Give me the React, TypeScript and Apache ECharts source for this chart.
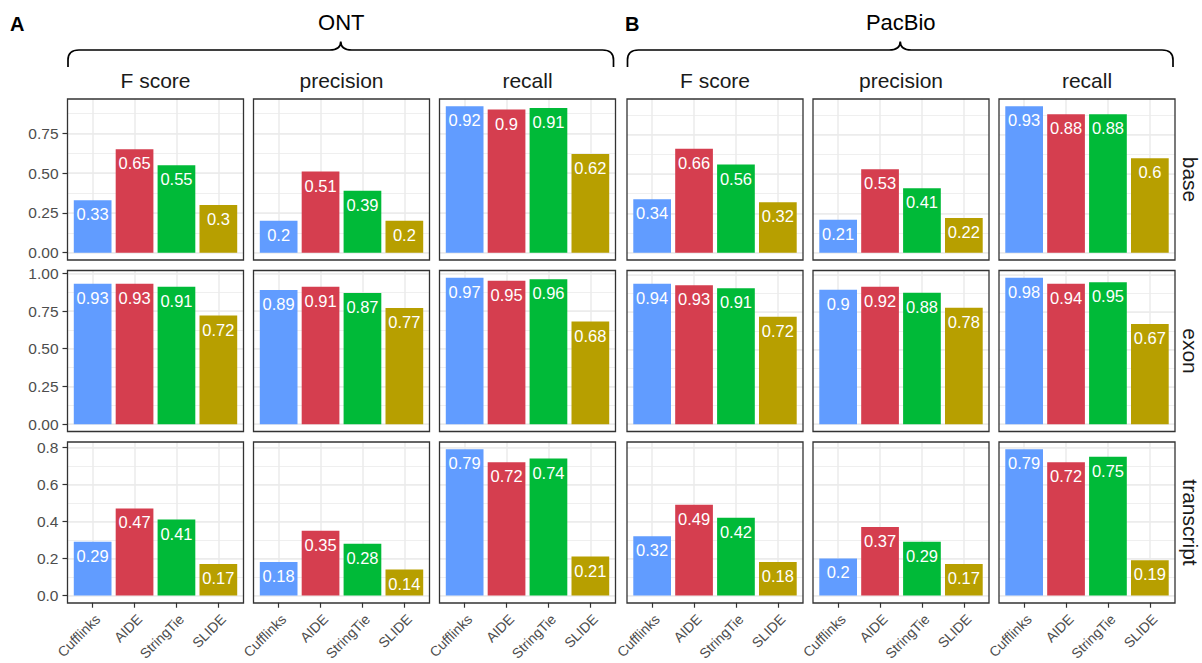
import React, { useEffect, useRef } from "react";
import * as echarts from "echarts";

// ---------- data ----------
const methods = ["Cufflinks", "AIDE", "StringTie", "SLIDE"];
const methodColors = ["#619CFF", "#D53E4F", "#00BA38", "#B79F00"];
const metrics = ["F score", "precision", "recall"];
const levels = ["base", "exon", "transcript"];
const platforms = ["ONT", "PacBio"];
const panelLetters = ["A", "B"];

// ONT
const ontBaseF = [0.33, 0.65, 0.55, 0.3];
const ontBaseP = [0.2, 0.51, 0.39, 0.2];
const ontBaseR = [0.92, 0.9, 0.91, 0.62];
const ontExonF = [0.93, 0.93, 0.91, 0.72];
const ontExonP = [0.89, 0.91, 0.87, 0.77];
const ontExonR = [0.97, 0.95, 0.96, 0.68];
const ontTranscriptF = [0.29, 0.47, 0.41, 0.17];
const ontTranscriptP = [0.18, 0.35, 0.28, 0.14];
const ontTranscriptR = [0.79, 0.72, 0.74, 0.21];

// PacBio
const pacbioBaseF = [0.34, 0.66, 0.56, 0.32];
const pacbioBaseP = [0.21, 0.53, 0.41, 0.22];
const pacbioBaseR = [0.93, 0.88, 0.88, 0.6];
const pacbioExonF = [0.94, 0.93, 0.91, 0.72];
const pacbioExonP = [0.9, 0.92, 0.88, 0.78];
const pacbioExonR = [0.98, 0.94, 0.95, 0.67];
const pacbioTranscriptF = [0.32, 0.49, 0.42, 0.18];
const pacbioTranscriptP = [0.2, 0.37, 0.29, 0.17];
const pacbioTranscriptR = [0.79, 0.72, 0.75, 0.19];

// y tick steps per level (major / minor) and label decimals
const levelMajorStep = [0.25, 0.25, 0.2];
const levelMinorStep = [0.125, 0.125, 0.1];
const levelDecimals = [2, 2, 1];

const ontRows = [
  [ontBaseF, ontBaseP, ontBaseR],
  [ontExonF, ontExonP, ontExonR],
  [ontTranscriptF, ontTranscriptP, ontTranscriptR],
];
const pacbioRows = [
  [pacbioBaseF, pacbioBaseP, pacbioBaseR],
  [pacbioExonF, pacbioExonP, pacbioExonR],
  [pacbioTranscriptF, pacbioTranscriptP, pacbioTranscriptR],
];
const groups = [ontRows, pacbioRows];

// ---------- layout ----------
const FONT = "'Liberation Sans', Arial, Helvetica, sans-serif";
const GROUP_X0 = [67.5, 627];
const PANEL_W = 176;
const PANEL_GAP = 10;
const ROW_TOP0 = 99;
const ROW_H = 161;
const ROW_GAP = 10.5;

const round = (v: number) => Math.round(v * 100000) / 100000;

function hiddenAxis(gridIndex: number) {
  return { gridIndex, type: "value", min: 0, max: 1, show: false };
}

function bracePath(L: number, R: number, yLine: number, yEnd: number, yTip: number) {
  const mid = (L + R) / 2;
  const r = 11;
  const t = 10;
  return (
    `M ${L} ${yEnd} L ${L} ${yLine + t} Q ${L} ${yLine} ${L + r} ${yLine} ` +
    `L ${mid - r} ${yLine} Q ${mid} ${yLine} ${mid} ${yTip} ` +
    `Q ${mid} ${yLine} ${mid + r} ${yLine} L ${R - r} ${yLine} ` +
    `Q ${R} ${yLine} ${R} ${yLine + t} L ${R} ${yEnd}`
  );
}

function buildOption() {
  const grids: any[] = [];
  const xAxes: any[] = [];
  const yAxes: any[] = [];
  const series: any[] = [];
  const graphics: any[] = [];

  groups.forEach((rows, g) => {
    rows.forEach((rowSeries, r) => {
      const m = Math.max(...rowSeries.flat());
      const ymax = 1.05 * m;
      const pxPerUnit = ROW_H / (1.1 * m);
      const plotH = ymax * pxPerUnit;
      const expansion = ROW_H - plotH;
      const majorStep = levelMajorStep[r];
      const minorStep = levelMinorStep[r];
      const dec = levelDecimals[r];
      const lastMajor = round(Math.floor(ymax / majorStep + 1e-9) * majorStep);
      const lastMinor = round(Math.floor(ymax / minorStep + 1e-9) * minorStep);

      rowSeries.forEach((vals, c) => {
        const x = GROUP_X0[g] + c * (PANEL_W + PANEL_GAP);
        const y = ROW_TOP0 + r * (ROW_H + ROW_GAP);
        const zeroY = y + plotH;
        const base = grids.length;
        const showY = g === 0 && c === 0;
        const showX = r === 2;

        // frame
        grids.push({
          left: x, top: y, width: PANEL_W, height: ROW_H,
          show: true, backgroundColor: "transparent",
          borderColor: "#333333", borderWidth: 1.3, z: 5,
        });
        xAxes.push(hiddenAxis(base));
        yAxes.push(hiddenAxis(base));

        // major horizontal grid + y labels
        grids.push({ left: x, width: PANEL_W, top: zeroY - lastMajor * pxPerUnit, height: lastMajor * pxPerUnit });
        xAxes.push(hiddenAxis(base + 1));
        yAxes.push({
          gridIndex: base + 1, type: "value", min: 0, max: lastMajor, interval: majorStep,
          axisLine: { show: false, onZero: false },
          axisTick: { show: showY, length: 5, lineStyle: { color: "#333333", width: 1.2 } },
          axisLabel: {
            show: showY, margin: 9, fontSize: 15.5, color: "#4d4d4d", fontFamily: FONT,
            showMinLabel: true, showMaxLabel: true,
            formatter: (v: number) => v.toFixed(dec),
          },
          splitLine: { show: true, lineStyle: { color: "#ebebeb", width: 1.5 } },
        });

        // minor horizontal grid
        grids.push({ left: x, width: PANEL_W, top: zeroY - lastMinor * pxPerUnit, height: lastMinor * pxPerUnit });
        xAxes.push(hiddenAxis(base + 2));
        yAxes.push({
          gridIndex: base + 2, type: "value", min: 0, max: lastMinor, interval: minorStep,
          axisLine: { show: false, onZero: false },
          axisTick: { show: false },
          axisLabel: { show: false },
          splitLine: { show: true, lineStyle: { color: "#ebebeb", width: 0.8 } },
        });

        // bars
        grids.push({
          left: x + (PANEL_W * 0.1) / 4.2, width: (PANEL_W * 4) / 4.2,
          top: y, height: plotH,
        });
        xAxes.push({
          gridIndex: base + 3, type: "category", data: methods, offset: expansion,
          axisLine: { show: false, onZero: false },
          axisTick: {
            show: showX, alignWithLabel: true, interval: 0, length: 5,
            lineStyle: { color: "#333333", width: 1.2 },
          },
          axisLabel: {
            show: showX, interval: 0, rotate: 45, margin: 9, fontSize: 14,
            color: "#4d4d4d", fontFamily: FONT, align: "right", verticalAlign: "top",
          },
          splitLine: {
            show: true, alignWithLabel: true, interval: 0,
            lineStyle: { color: "#ebebeb", width: 1.5 },
          },
        });
        yAxes.push({ gridIndex: base + 3, type: "value", min: 0, max: ymax, show: false });

        series.push({
          type: "bar",
          name: `${platforms[g]} ${levels[r]} ${metrics[c]}`,
          xAxisIndex: base + 3,
          yAxisIndex: base + 3,
          barWidth: "90%",
          data: vals.map((v, i) => ({ value: v, itemStyle: { color: methodColors[i] } })),
          label: {
            show: true, position: "insideTop", distance: 5.5,
            color: "#ffffff", fontSize: 16.5, fontFamily: FONT,
            formatter: (p: any) => String(p.value),
          },
        });

        // column strip title
        if (r === 0) {
          graphics.push({
            type: "text", x: x + PANEL_W / 2, y: 80, silent: true,
            style: {
              text: metrics[c], fontSize: 21, fontFamily: FONT, fill: "#1a1a1a",
              textAlign: "center", textVerticalAlign: "middle",
            },
          });
        }
      });

      // row strip titles (right of group B only)
      if (g === 1) {
        const yTop = ROW_TOP0 + r * (ROW_H + ROW_GAP);
        graphics.push({
          type: "text", x: 1190, y: yTop + ROW_H / 2, rotation: -Math.PI / 2, silent: true,
          style: {
            text: levels[r], fontSize: 21, fontFamily: FONT, fill: "#1a1a1a",
            textAlign: "center", textVerticalAlign: "middle",
          },
        });
      }
    });

    const L = GROUP_X0[g] + 0.5;
    const R = GROUP_X0[g] + 3 * PANEL_W + 2 * PANEL_GAP - 1;
    graphics.push({
      type: "text", x: (L + R) / 2, y: 22, silent: true,
      style: {
        text: platforms[g], fontSize: 22, fontFamily: FONT, fill: "#000000",
        textAlign: "center", textVerticalAlign: "middle",
      },
    });
    graphics.push({
      type: "text", x: g === 0 ? 10 : 625, y: 24, silent: true,
      style: {
        text: panelLetters[g], fontSize: 20, fontWeight: "bold", fontFamily: FONT, fill: "#000000",
        textAlign: "left", textVerticalAlign: "middle",
      },
    });
  });

  const d =
    bracePath(GROUP_X0[0] + 0.5, GROUP_X0[0] + 3 * PANEL_W + 2 * PANEL_GAP - 2, 50, 67, 41.5) +
    " " +
    bracePath(GROUP_X0[1] + 0.5, GROUP_X0[1] + 3 * PANEL_W + 2 * PANEL_GAP - 2, 50, 67, 41.5);
  echarts.graphic.registerShape("braces", echarts.graphic.extendPath(d, {}));
  graphics.push({
    type: "braces", x: 0, y: 0, silent: true,
    style: { stroke: "#000000", fill: "none", lineWidth: 1.7 },
  });

  return {
    animation: false,
    backgroundColor: "#ffffff",
    textStyle: { fontFamily: FONT },
    grid: grids,
    xAxis: xAxes,
    yAxis: yAxes,
    series,
    graphic: graphics,
  };
}

export default function App() {
  const ref = useRef<HTMLDivElement>(null);
  useEffect(() => {
    if (!ref.current) return;
    const chart = echarts.init(ref.current, null, { renderer: "svg" });
    chart.setOption(buildOption() as any);
    return () => chart.dispose();
  }, []);
  return (
    <div
      ref={ref}
      style={{ position: "fixed", left: 0, top: 0, width: 1202, height: 663, background: "#fff" }}
    />
  );
}
